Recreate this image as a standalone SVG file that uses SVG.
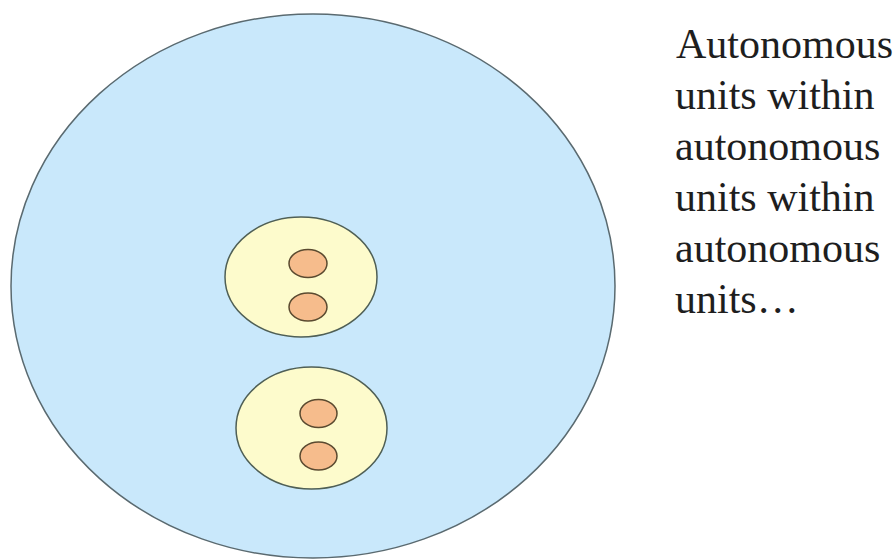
<svg xmlns="http://www.w3.org/2000/svg" width="894" height="559" viewBox="0 0 894 559">
  <style>
    .outer { fill: #c9e8fb; stroke: #5a6a70; stroke-width: 1.5; }
    .mid { fill: #fdfbcc; stroke: #4f5f55; stroke-width: 1.5; }
    .core { fill: #f6bc8c; stroke: #5a4a30; stroke-width: 1.5; }
    .label { font-family: "Liberation Serif", "Times New Roman", serif; font-size: 42px; fill: #1e1e1e; }
  </style>
  <rect width="894" height="559" fill="#ffffff"/>
  <!-- outermost unit -->
  <g id="outer-unit">
    <ellipse class="outer" cx="313" cy="286" rx="302" ry="272"/>
  </g>
  <!-- upper nested unit and its two members -->
  <g id="unit-a">
    <ellipse class="mid" cx="301" cy="277" rx="76" ry="60"/>
  </g>
  <g id="unit-a1">
    <ellipse class="core" cx="308" cy="263.5" rx="19" ry="14"/>
  </g>
  <g id="unit-a2">
    <ellipse class="core" cx="308" cy="307" rx="19" ry="14"/>
  </g>
  <!-- lower nested unit and its two members -->
  <g id="unit-b">
    <ellipse class="mid" cx="311.5" cy="428" rx="75.5" ry="61"/>
  </g>
  <g id="unit-b1">
    <ellipse class="core" cx="318.5" cy="413.5" rx="18.5" ry="14"/>
  </g>
  <g id="unit-b2">
    <ellipse class="core" cx="318.5" cy="456" rx="18.5" ry="14"/>
  </g>
  <g id="connectors"/>
  <g id="caption">
    <text class="label" x="676" y="58">Autonomous</text>
    <text class="label" x="675" y="109">units within</text>
    <text class="label" x="675" y="160">autonomous</text>
    <text class="label" x="675" y="211">units within</text>
    <text class="label" x="675" y="262">autonomous</text>
    <text class="label" x="675" y="313">units…</text>
  </g>
</svg>
